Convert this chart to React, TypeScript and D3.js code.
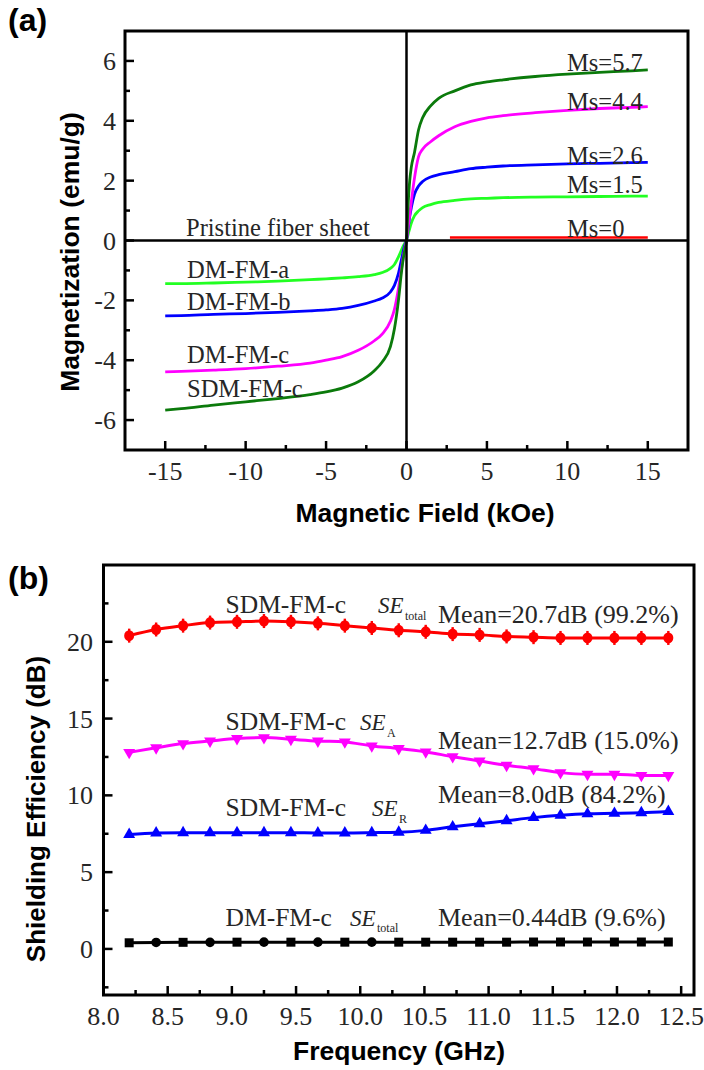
import React from 'react';
import * as d3 from 'd3';

// ---- panel (a): magnetization loops ----
const field = [-15, -14, -12, -10, -8, -6, -5, -4, -3, -2, -1.5, -1, -0.75, -0.5, -0.3, -0.2, -0.1, 0,
  0.1, 0.2, 0.3, 0.5, 0.75, 1, 1.5, 2, 3, 4, 5, 6, 8, 10, 12, 14, 15];

const dmFmA = [-1.44, -1.44, -1.42, -1.39, -1.36, -1.31, -1.28, -1.25, -1.21, -1.14, -1.07, -0.93, -0.8, -0.55, -0.3, -0.18, -0.08, 0,
  0.2, 0.4, 0.58, 0.83, 0.99, 1.1, 1.2, 1.27, 1.34, 1.39, 1.41, 1.43, 1.45, 1.46, 1.47, 1.48, 1.48];
const dmFmB = [-2.52, -2.51, -2.47, -2.44, -2.4, -2.35, -2.32, -2.27, -2.17, -2.02, -1.92, -1.72, -1.5, -1.1, -0.6, -0.35, -0.15, 0,
  0.4, 0.8, 1.1, 1.55, 1.82, 1.97, 2.12, 2.2, 2.3, 2.4, 2.45, 2.49, 2.53, 2.56, 2.58, 2.6, 2.61];
const dmFmC = [-4.39, -4.37, -4.33, -4.28, -4.2, -4.1, -4.0, -3.88, -3.67, -3.35, -3.12, -2.7, -2.3, -1.6, -0.9, -0.55, -0.25, 0,
  0.45, 0.85, 1.3, 2.1, 2.8, 3.05, 3.3, 3.5, 3.8, 3.98, 4.1, 4.17, 4.27, 4.35, 4.41, 4.45, 4.47];
const sdmFmC = [-5.67, -5.62, -5.5, -5.39, -5.28, -5.15, -5.06, -4.93, -4.72, -4.35, -4.05, -3.55, -2.95, -2.0, -1.0, -0.6, -0.3, 0,
  1.2, 2.0, 2.45, 2.95, 3.7, 4.1, 4.5, 4.75, 5.0, 5.2, 5.3, 5.37, 5.48, 5.56, 5.62, 5.67, 5.7];

const pristineField = [2.7, 6, 10, 15];
const pristine = [0.1, 0.1, 0.1, 0.1];

const msLabels = ['Ms=5.7', 'Ms=4.4', 'Ms=2.6', 'Ms=1.5', 'Ms=0'];
const sampleLabels = ['DM-FM-a', 'DM-FM-b', 'DM-FM-c', 'SDM-FM-c'];

// ---- panel (b): shielding efficiency ----
const freq = [8.2, 8.41, 8.62, 8.83, 9.04, 9.25, 9.46, 9.67, 9.88, 10.09, 10.3,
  10.51, 10.72, 10.93, 11.14, 11.35, 11.56, 11.77, 11.98, 12.19, 12.4];
const seTotal = [20.4, 20.8, 21.05, 21.25, 21.3, 21.35, 21.3, 21.2, 21.05, 20.9, 20.75,
  20.65, 20.5, 20.45, 20.35, 20.3, 20.25, 20.25, 20.25, 20.25, 20.25];
const seA = [12.8, 13.1, 13.37, 13.54, 13.7, 13.76, 13.65, 13.54, 13.48, 13.22, 13.05,
  12.83, 12.52, 12.24, 11.96, 11.74, 11.48, 11.37, 11.37, 11.3, 11.3];
const seR = [7.45, 7.55, 7.57, 7.57, 7.57, 7.57, 7.57, 7.55, 7.55, 7.57, 7.6,
  7.72, 7.95, 8.15, 8.35, 8.55, 8.7, 8.8, 8.83, 8.87, 8.95];
const dmSeTotal = [0.4, 0.42, 0.43, 0.43, 0.44, 0.44, 0.44, 0.44, 0.44, 0.44, 0.44,
  0.44, 0.44, 0.44, 0.44, 0.45, 0.45, 0.45, 0.45, 0.45, 0.45];
const meanLabels = ['Mean=20.7dB (99.2%)', 'Mean=12.7dB (15.0%)', 'Mean=8.0dB (84.2%)', 'Mean=0.44dB (9.6%)'];

const serif = '"Liberation Serif", "Times New Roman", serif';
const sans = '"Liberation Sans", Arial, sans-serif';
const txt = '#262626';

const ax = d3.scaleLinear().domain([-17.5, 17.5]).range([125, 688]);
const ay = d3.scaleLinear().domain([-7, 7]).range([450, 31]);
const bx = d3.scaleLinear().domain([8.0, 12.6]).range([103.5, 694]);
const by = d3.scaleLinear().domain([-3, 25]).range([995, 565]);

function PanelA() {
  const line = (ys: number[], xs: number[] = field) =>
    d3.line<number>().x((d, i) => ax(xs[i])).y((d) => ay(d)).curve(d3.curveMonotoneX)(ys) || '';
  const series = [
    { v: dmFmA, c: '#22ff22' },
    { v: dmFmB, c: '#0000ff' },
    { v: dmFmC, c: '#ff00ff' },
    { v: sdmFmC, c: '#0b7a0b' },
  ];
  const [x0, x1] = ax.range();
  const [y0, y1] = ay.range();
  const msY = [71, 110, 164, 193, 237];
  const sampleY = [278, 310, 363, 397];
  return (
    <g>
      <text x={8} y={31} fontFamily={sans} fontWeight="bold" fontSize={32}>(a)</text>
      {series.map((s, i) => (
        <path key={i} d={line(s.v)} fill="none" stroke={s.c} strokeWidth={2.8} />
      ))}
      <path d={line(pristine, pristineField)} fill="none" stroke="#ff0000" strokeWidth={2.3} />
      <line x1={x0} x2={x1} y1={ay(0)} y2={ay(0)} stroke="#000" strokeWidth={2.5} />
      <line x1={ax(0)} x2={ax(0)} y1={y0} y2={y1} stroke="#000" strokeWidth={2.5} />
      <rect x={x0} y={y1} width={x1 - x0} height={y0 - y1} fill="none" stroke="#000" strokeWidth={3} />
      {d3.range(-6, 7, 2).map((t) => (
        <g key={t}>
          <line x1={x0} x2={x0 + 9} y1={ay(t)} y2={ay(t)} stroke="#000" strokeWidth={2.5} />
          <text x={116} y={ay(t)} dy="0.35em" textAnchor="end" fontFamily={serif} fontSize={26} fill={txt}>{t}</text>
        </g>
      ))}
      {d3.range(-5, 6, 2).map((t) => (
        <line key={t} x1={x0} x2={x0 + 5} y1={ay(t)} y2={ay(t)} stroke="#000" strokeWidth={2.5} />
      ))}
      {d3.range(-15, 16, 5).map((t) => (
        <g key={t}>
          <line x1={ax(t)} x2={ax(t)} y1={y0} y2={y0 - 9} stroke="#000" strokeWidth={2.5} />
          <text x={ax(t)} y={480} textAnchor="middle" fontFamily={serif} fontSize={26} fill={txt}>{t}</text>
        </g>
      ))}
      {d3.range(-12.5, 13, 5).map((t) => (
        <line key={t} x1={ax(t)} x2={ax(t)} y1={y0} y2={y0 - 5} stroke="#000" strokeWidth={2.5} />
      ))}
      {msLabels.map((l, i) => (
        <text key={l} x={567} y={msY[i]} fontFamily={serif} fontSize={24.5} fill={txt}>{l}</text>
      ))}
      <text x={186} y={236} fontFamily={serif} fontSize={24.5} fill={txt}>Pristine fiber sheet</text>
      {sampleLabels.map((l, i) => (
        <text key={l} x={187} y={sampleY[i]} fontFamily={serif} fontSize={24.5} fill={txt}>{l}</text>
      ))}
      <text x={425} y={522} textAnchor="middle" fontFamily={sans} fontWeight="bold" fontSize={26.5}>Magnetic Field (kOe)</text>
      <text transform="translate(79,252) rotate(-90)" textAnchor="middle" fontFamily={sans} fontWeight="bold" fontSize={26.5}>Magnetization (emu/g)</text>
    </g>
  );
}

function PanelB() {
  const line = (ys: number[]) =>
    d3.line<number>().x((d, i) => bx(freq[i])).y((d) => by(d)).curve(d3.curveMonotoneX)(ys) || '';
  const tri = d3.symbol(d3.symbolTriangle, 62)() || '';
  const [x0, x1] = bx.range();
  const [y0, y1] = by.range();
  const rows = [
    { name: 'SDM-FM-c', by: 613, seX: 378, sub: 'total', subY: 620, meanY: 623 },
    { name: 'SDM-FM-c', by: 730, seX: 360, sub: 'A', subY: 737, meanY: 749 },
    { name: 'SDM-FM-c', by: 816, seX: 372, sub: 'R', subY: 823, meanY: 803 },
    { name: 'DM-FM-c', by: 926, seX: 350, sub: 'total', subY: 932, meanY: 926 },
  ];
  return (
    <g>
      <text x={8} y={589} fontFamily={sans} fontWeight="bold" fontSize={32}>(b)</text>
      <rect x={x0} y={y1} width={x1 - x0} height={y0 - y1} fill="none" stroke="#000" strokeWidth={3} />
      {d3.range(0, 21, 5).map((t) => (
        <g key={t}>
          <line x1={x0} x2={x0 + 9} y1={by(t)} y2={by(t)} stroke="#000" strokeWidth={2.5} />
          <text x={93} y={by(t)} dy="0.35em" textAnchor="end" fontFamily={serif} fontSize={26} fill={txt}>{t}</text>
        </g>
      ))}
      {d3.range(-2.5, 23, 5).map((t) => (
        <line key={t} x1={x0} x2={x0 + 5} y1={by(t)} y2={by(t)} stroke="#000" strokeWidth={2.5} />
      ))}
      {d3.range(8.0, 12.55, 0.5).map((t) => (
        <g key={t}>
          <line x1={bx(t)} x2={bx(t)} y1={y0} y2={y0 - 9} stroke="#000" strokeWidth={2.5} />
          <text x={bx(t)} y={1025} textAnchor="middle" fontFamily={serif} fontSize={26} fill={txt}>{d3.format('.1f')(t)}</text>
        </g>
      ))}
      {d3.range(8.25, 12.3, 0.5).map((t) => (
        <line key={t} x1={bx(t)} x2={bx(t)} y1={y0} y2={y0 - 5} stroke="#000" strokeWidth={2.5} />
      ))}

      <path d={line(seTotal)} fill="none" stroke="#ff0000" strokeWidth={3} />
      {seTotal.map((v, i) => (
        <g key={i} fill="#ff0000">
          <ellipse cx={bx(freq[i])} cy={by(v)} rx={5} ry={5.5} />
          <rect x={bx(freq[i]) - 1.2} y={by(v) - 7} width={2.4} height={14} />
        </g>
      ))}
      <path d={line(seA)} fill="none" stroke="#ff00ff" strokeWidth={3} />
      {seA.map((v, i) => (
        <path key={i} d={tri} transform={`translate(${bx(freq[i])},${by(v)}) rotate(180)`} fill="#ff00ff" />
      ))}
      <path d={line(seR)} fill="none" stroke="#0000ff" strokeWidth={3} />
      {seR.map((v, i) => (
        <path key={i} d={tri} transform={`translate(${bx(freq[i])},${by(v)})`} fill="#0000ff" />
      ))}
      <path d={line(dmSeTotal)} fill="none" stroke="#000" strokeWidth={3} />
      {dmSeTotal.map((v, i) =>
        i % 2 === 1 && i < 10 ? (
          <circle key={i} cx={bx(freq[i])} cy={by(v)} r={4.8} fill="#000" />
        ) : (
          <rect key={i} x={bx(freq[i]) - 4.5} y={by(v) - 4.5} width={9} height={9} fill="#000" />
        )
      )}

      {rows.map((r, i) => (
        <g key={i} fontFamily={serif} fill={txt}>
          <text x={225.6} y={r.by} fontSize={25.5}>{r.name}</text>
          <text x={r.seX} y={r.by} fontSize={23} fontStyle="italic">SE</text>
          <text x={r.seX + 27} y={r.subY} fontSize={12}>{r.sub}</text>
          <text x={438} y={r.meanY} fontSize={26}>{meanLabels[i]}</text>
        </g>
      ))}

      <text x={399} y={1060} textAnchor="middle" fontFamily={sans} fontWeight="bold" fontSize={26.5}>Frequency (GHz)</text>
      <text transform="translate(45,809) rotate(-90)" textAnchor="middle" fontFamily={sans} fontWeight="bold" fontSize={26}>Shielding Efficiency (dB)</text>
    </g>
  );
}

export default function App() {
  return (
    <svg width={704} height={1070} viewBox="0 0 704 1070"
      style={{ position: 'absolute', left: 0, top: 0, background: '#fff' }}>
      <rect width={704} height={1070} fill="#fff" />
      <PanelA />
      <PanelB />
    </svg>
  );
}
